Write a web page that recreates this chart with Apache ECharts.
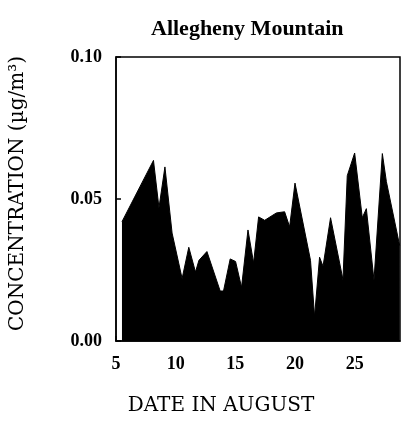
<!DOCTYPE html>
<html>
<head>
<meta charset="utf-8">
<script src="https://cdn.jsdelivr.net/npm/echarts@6/dist/echarts.min.js"></script>
<style>
  html, body { margin: 0; padding: 0; background: #fff; }
  #chart { width: 401px; height: 421px; }
</style>
</head>
<body>
<div id="chart"></div>
<script>
// sample times (day in August) and concentrations (ug/m3)
const days = [5.5, 8.14, 8.6, 9.1, 9.7, 10.54, 11.1, 11.66, 11.95, 12.62, 13.73, 14.01, 14.57, 15.02,
  15.52, 16.06, 16.53, 16.95, 17.46, 18.44, 19.13, 19.55, 20.0, 21.3, 21.64, 22.06, 22.35, 22.98,
  24.02, 24.38, 25.0, 25.64, 25.98, 26.62, 27.32, 27.66, 28.77];
const conc = [0.042, 0.0636, 0.0469, 0.0613, 0.038, 0.022, 0.033, 0.0243, 0.0284, 0.0315, 0.0176, 0.0176, 0.0289, 0.028,
  0.0189, 0.0391, 0.0275, 0.0437, 0.0425, 0.0451, 0.0455, 0.0402, 0.0556, 0.0284, 0.0087, 0.0295, 0.0263, 0.0434,
  0.0216, 0.0582, 0.0662, 0.0434, 0.0466, 0.0214, 0.066, 0.0561, 0.0336];
const xTicks = [5, 10, 15, 20, 25];
const yTicks = [0, 0.05, 0.1];

const SERIF = 'Liberation Serif';
const WIDE = 'DejaVu Serif';

const chart = echarts.init(document.getElementById('chart'));
chart.setOption({
  animation: false,
  title: {
    text: 'Allegheny Mountain', left: 146, top: 13,
    textStyle: { fontFamily: SERIF, fontWeight: 'bold', fontSize: 22, color: '#000' }
  },
  grid: { left: 115, right: 1, top: 57, bottom: 76, show: true, borderColor: '#000', borderWidth: 1.5 },
  xAxis: {
    type: 'value', min: 5, max: 28.8, interval: 5,
    name: 'DATE IN AUGUST', nameLocation: 'middle', nameGap: 55,
    nameTextStyle: { fontFamily: WIDE, fontSize: 20, color: '#000', padding: [0, 74, 0, 0] },
    axisLine: { lineStyle: { color: '#000', width: 1.5 } },
    axisTick: { inside: true, length: 5, lineStyle: { color: '#000', width: 1.5 } },
    axisLabel: {
      margin: 14, color: '#000', fontFamily: SERIF, fontWeight: 'bold', fontSize: 18,
      showMaxLabel: false,
      formatter: v => xTicks.includes(v) ? String(v) : ''
    },
    splitLine: { show: false }
  },
  yAxis: {
    type: 'value', min: 0, max: 0.1, interval: 0.05,
    name: 'CONCENTRATION (\u00b5g/m\u00b3)', nameLocation: 'middle', nameGap: 88,
    nameTextStyle: { fontFamily: WIDE, fontSize: 20, color: '#000', padding: [0, 0, 0, 11] },
    axisLine: { lineStyle: { color: '#000', width: 1.5 } },
    axisTick: { inside: true, length: 5, lineStyle: { color: '#000', width: 1.5 } },
    axisLabel: {
      margin: 14, color: '#000', fontFamily: SERIF, fontWeight: 'bold', fontSize: 18,
      formatter: v => yTicks.some(t => Math.abs(t - v) < 1e-9) ? v.toFixed(2) : ''
    },
    splitLine: { show: false }
  },
  series: [{
    type: 'line',
    data: days.map((d, i) => [d, conc[i]]),
    symbol: 'none',
    lineStyle: { color: '#000', width: 1 },
    areaStyle: { color: '#000', opacity: 1 }
  }]
});
</script>
</body>
</html>
